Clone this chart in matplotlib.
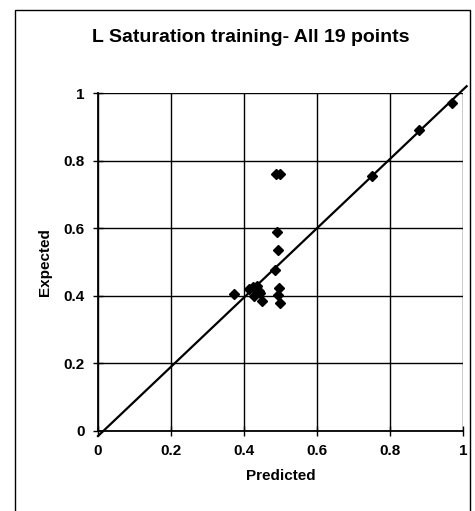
import matplotlib.pyplot as plt
from matplotlib.patches import Rectangle

# predicted vs expected saturation, 19 training points
predicted = [0.97, 0.88, 0.75, 0.487, 0.499, 0.49, 0.494, 0.485,
             0.497, 0.494, 0.499, 0.373, 0.415, 0.425, 0.435, 0.442,
             0.428, 0.445, 0.45]
expected = [0.97, 0.89, 0.755, 0.76, 0.76, 0.59, 0.535, 0.476,
            0.424, 0.402, 0.378, 0.404, 0.42, 0.425, 0.43, 0.415,
            0.40, 0.408, 0.385]

# fitted trend line
fit_x = [0.0, 1.01]
fit_y = [-0.015, 1.02]

ticks = [0, 0.2, 0.4, 0.6, 0.8, 1]
tick_labels = ['0', '0.2', '0.4', '0.6', '0.8', '1']

plt.rcParams['font.family'] = ['Liberation Sans', 'DejaVu Sans']

fig = plt.figure(figsize=(4.75, 5.11), dpi=100)
ax = fig.add_axes([0.2063, 0.1566, 0.7684, 0.6614])

ax.set_xlim(0, 1)
ax.set_ylim(0, 1)
ax.set_xticks(ticks)
ax.set_yticks(ticks)
ax.set_xticklabels(tick_labels, fontsize=11, fontweight='bold')
ax.set_yticklabels(tick_labels, fontsize=11, fontweight='bold')
ax.tick_params(direction='inout', length=7, width=1, color='black', pad=6)
ax.grid(True, color='black', linewidth=1)
ax.set_axisbelow(True)

for side in ['top', 'right']:
    ax.spines[side].set_visible(False)
for side in ['left', 'bottom']:
    ax.spines[side].set_linewidth(1.3)

ax.plot(fit_x, fit_y, color='black', linewidth=1.6, clip_on=False, zorder=3)
ax.plot(predicted, expected, linestyle='none', marker='D', markersize=5.5,
        color='black', zorder=4)

ax.set_xlabel('Predicted', fontsize=11, fontweight='bold', labelpad=8)
ax.set_ylabel('Expected', fontsize=11, fontweight='bold', labelpad=8)
fig.text(0.528, 0.926, 'L Saturation training- All 19 points', ha='center',
         va='center', fontsize=14, fontweight='bold')

# chart border
fig.patches.append(Rectangle((15 / 475, -0.1), 455 / 475, 1.1 - 10 / 511,
                             transform=fig.transFigure, fill=False,
                             edgecolor='black', linewidth=1))

fig.savefig('out.png', dpi=100)
